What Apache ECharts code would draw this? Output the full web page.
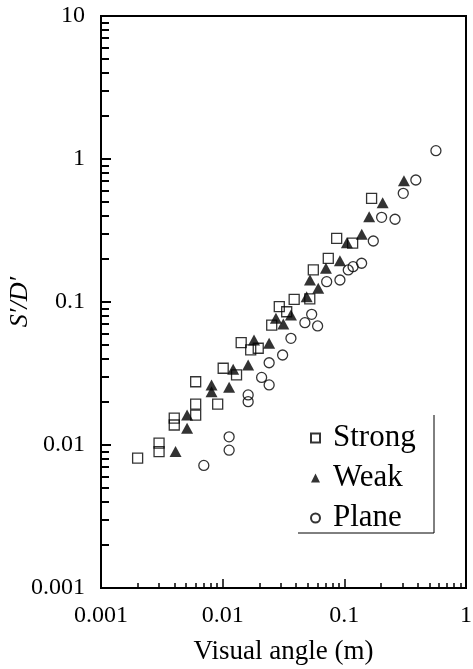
<!DOCTYPE html>
<html>
<head>
<meta charset="utf-8">
<script src="https://cdn.jsdelivr.net/npm/echarts@6/dist/echarts.min.js"></script>
<style>
html, body { margin: 0; background: #fff; }
#chart { width: 473px; height: 669px; }
</style>
</head>
<body>
<div id="chart"></div>
<script>
// Data: [visual angle, S'/D']
var strongData = [
    [0.002, 0.0081], [0.003, 0.0103], [0.003, 0.0090], [0.004, 0.0154], [0.004, 0.0138],
    [0.006, 0.0193], [0.006, 0.0162], [0.006, 0.0277], [0.0091, 0.0193], [0.0101, 0.0344],
    [0.013, 0.0309], [0.0142, 0.052], [0.017, 0.0462], [0.0196, 0.0475], [0.0253, 0.069],
    [0.0292, 0.0927], [0.0336, 0.0855], [0.0387, 0.1044], [0.052, 0.105], [0.0556, 0.1675],
    [0.0738, 0.202], [0.0865, 0.279], [0.117, 0.258], [0.1675, 0.531]
];
var weakData = [
    [0.0041, 0.0090], [0.0051, 0.0162], [0.0051, 0.0131], [0.0081, 0.0263], [0.0081, 0.0236],
    [0.0113, 0.0253], [0.0122, 0.0338], [0.0162, 0.0362], [0.0181, 0.0542], [0.0241, 0.0514],
    [0.0274, 0.0769], [0.0315, 0.0702], [0.0364, 0.0811], [0.049, 0.109], [0.0522, 0.1425],
    [0.061, 0.1247], [0.0706, 0.172], [0.092, 0.1945], [0.105, 0.26], [0.139, 0.298],
    [0.16, 0.395], [0.2065, 0.495], [0.309, 0.705]
];
var planeData = [
    [0.007, 0.0072], [0.0113, 0.0114], [0.0113, 0.0092], [0.0162, 0.0224], [0.0162, 0.0201],
    [0.0209, 0.0297], [0.0241, 0.0263], [0.0241, 0.0376], [0.0311, 0.0426], [0.0364, 0.0557],
    [0.0474, 0.0717], [0.0539, 0.082], [0.0603, 0.068], [0.0716, 0.1387], [0.092, 0.1425],
    [0.1077, 0.1675], [0.118, 0.1766], [0.1387, 0.1866], [0.173, 0.267], [0.2025, 0.391],
    [0.261, 0.379], [0.305, 0.575], [0.387, 0.713], [0.566, 1.143]
];

// Tick values and labels
var xMajorTicks = [0.001, 0.01, 0.1, 1];
var xTickLabels = ['0.001', '0.01', '0.1', '1'];
var yMajorTicks = [0.001, 0.01, 0.1, 1, 10];
var yTickLabels = ['0.001', '0.01', '0.1', '1', '10'];

// minor ticks at 2..9 of every decade
function minorTicks(decades) {
    var out = [];
    for (var d = 0; d < decades.length - 1; d++) {
        for (var k = 2; k <= 9; k++) {
            out.push(+(decades[d] * k).toPrecision(3));
        }
    }
    return out;
}
var xMinorTicks = minorTicks(xMajorTicks);
var yMinorTicks = minorTicks(yMajorTicks);

function labelFor(ticks, labels) {
    return function (v) {
        for (var i = 0; i < ticks.length; i++) {
            if (Math.abs(Math.log10(v) - Math.log10(ticks[i])) < 1e-6) return labels[i];
        }
        return '';
    };
}

var serif = '"Liberation Serif", "DejaVu Serif", serif';

var chart = echarts.init(document.getElementById('chart'), null, { renderer: 'canvas' });

chart.setOption({
    animation: false,
    backgroundColor: '#fff',
    textStyle: { fontFamily: serif, color: '#000' },

    grid: {
        left: 101, right: 7, top: 16, bottom: 81,
        show: true,
        borderColor: '#000',
        borderWidth: 2,
        outerBoundsMode: 'none'
    },

    xAxis: [{
        type: 'log',
        logBase: 10,
        min: 0.001,
        max: 1,
        position: 'bottom',
        name: 'Visual angle (m)',
        nameLocation: 'middle',
        nameGap: 50,
        nameTextStyle: { fontFamily: serif, fontSize: 27, color: '#000' },
        axisLine: { show: true, lineStyle: { color: '#000', width: 2 } },
        axisTick: { show: true, inside: true, length: 9, customValues: xMajorTicks, lineStyle: { color: '#000', width: 1.5 } },
        axisLabel: { customValues: xMajorTicks, formatter: labelFor(xMajorTicks, xTickLabels), color: '#000', fontFamily: serif, fontSize: 24, margin: 16 },
        splitLine: { show: false }
    }, {
        type: 'log',
        logBase: 10,
        min: 0.001,
        max: 1,
        position: 'bottom',
        axisLine: { show: false },
        axisTick: { show: true, inside: true, length: 5, customValues: xMinorTicks, lineStyle: { color: '#000', width: 1.5 } },
        axisLabel: { show: false },
        splitLine: { show: false }
    }],

    yAxis: [{
        type: 'log',
        logBase: 10,
        min: 0.001,
        max: 10,
        position: 'left',
        name: 'S\u2032/D\u2032',
        nameLocation: 'middle',
        nameGap: 68,
        nameMoveOverlap: false,
        nameTextStyle: { fontFamily: serif, fontSize: 26, fontStyle: 'italic', color: '#000' },
        axisLine: { show: true, lineStyle: { color: '#000', width: 2 } },
        axisTick: { show: true, inside: true, length: 10, customValues: yMajorTicks, lineStyle: { color: '#000', width: 2 } },
        axisLabel: { customValues: yMajorTicks, formatter: labelFor(yMajorTicks, yTickLabels), color: '#000', fontFamily: serif, fontSize: 24, margin: 16 },
        splitLine: { show: false }
    }, {
        type: 'log',
        logBase: 10,
        min: 0.001,
        max: 10,
        position: 'left',
        axisLine: { show: false },
        axisTick: { show: true, inside: true, length: 8, customValues: yMinorTicks, lineStyle: { color: '#000', width: 2 } },
        axisLabel: { show: false },
        splitLine: { show: false }
    }],

    legend: {
        orient: 'vertical',
        left: 310,
        top: 422,
        padding: 0,
        itemWidth: 9,
        itemHeight: 9,
        itemGap: 8,
        selectedMode: false,
        textStyle: { fontFamily: serif, fontSize: 31, color: '#000', lineHeight: 32, padding: [0, 0, 0, 8] },
        data: [
            { name: 'Strong', icon: 'rect' },
            { name: 'Weak', icon: 'triangle' },
            { name: 'Plane', icon: 'circle' }
        ]
    },

    // legend frame: right and bottom edges only
    graphic: [
        { type: 'line', shape: { x1: 434, y1: 415, x2: 434, y2: 533 }, style: { stroke: '#000', lineWidth: 1 } },
        { type: 'line', shape: { x1: 298, y1: 533, x2: 434, y2: 533 }, style: { stroke: '#000', lineWidth: 1 } }
    ],

    series: [{
        name: 'Strong',
        type: 'scatter',
        symbol: 'rect',
        symbolSize: 10,
        itemStyle: { color: 'rgba(255,255,255,0)', borderColor: '#000', borderWidth: 1.3 },
        data: strongData
    }, {
        name: 'Weak',
        type: 'scatter',
        symbol: 'triangle',
        symbolSize: [12, 11],
        itemStyle: { color: '#000' },
        data: weakData
    }, {
        name: 'Plane',
        type: 'scatter',
        symbol: 'circle',
        symbolSize: 10,
        itemStyle: { color: 'rgba(255,255,255,0)', borderColor: '#000', borderWidth: 1.3 },
        data: planeData
    }]
});
</script>
</body>
</html>
